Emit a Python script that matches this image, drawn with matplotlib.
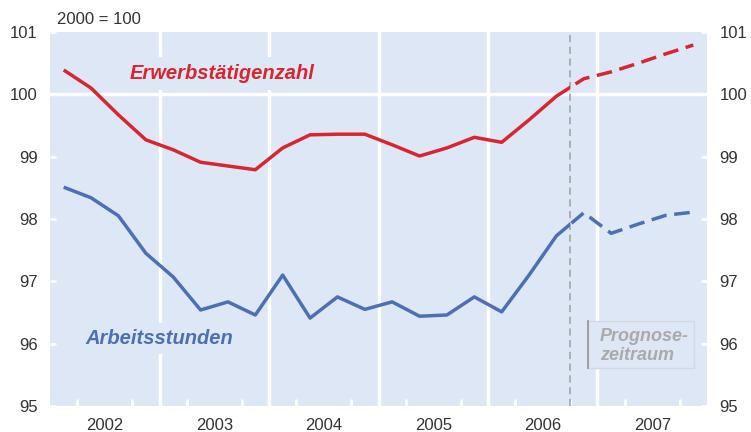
import matplotlib.pyplot as plt
from matplotlib.patches import Rectangle
import numpy as np

plt.rcParams['font.family'] = ['Liberation Sans', 'DejaVu Sans']

# quarterly data 2002Q1 .. 2007Q4 (2000 = 100)
years = [2002, 2003, 2004, 2005, 2006, 2007]
erwerb = [100.39, 100.10, 99.67, 99.27, 99.11, 98.91, 98.85, 98.79,
          99.14, 99.35, 99.36, 99.36, 99.19, 99.01, 99.14, 99.31,
          99.23, 99.59, 99.97, 100.25, 100.36, 100.50, 100.65, 100.79]
stunden = [98.51, 98.34, 98.05, 97.45, 97.07, 96.54, 96.67, 96.46,
           97.10, 96.41, 96.75, 96.55, 96.67, 96.44, 96.46, 96.75,
           96.51, 97.10, 97.73, 98.10, 97.77, 97.92, 98.06, 98.11]
forecast_start = 2006.75

bg = '#dee7f6'
red = '#d9262e'
blue = '#4b70b6'
grey_txt = '#333333'

x = np.array([y + (q + 0.5) / 4 for y in years for q in range(4)])

fig = plt.figure(figsize=(7.51, 4.32), dpi=100)
ax = fig.add_axes([0.0666, 0.0602, 0.8748, 0.8658])
ax.set_facecolor(bg)
for s in ax.spines.values():
    s.set_visible(False)

ax.set_xlim(2002, 2008)
ax.set_ylim(95, 101)

# grid: year boundaries and the 100 line
for yb in years[1:]:
    ax.axvline(yb, color='white', lw=2.5, zorder=1)
ax.axhline(100, color='white', lw=2.5, zorder=1)

# forecast marker
ax.axvline(forecast_start, color='#aaaaaa', lw=1.3, ls=(0, (4, 2.5)), zorder=2)

# lines: solid before forecast start, dashed after (clipped, no extra points)
for vals, col in [(erwerb, red), (stunden, blue)]:
    solid, = ax.plot(x, vals, color=col, lw=2.5, zorder=4, solid_capstyle='butt')
    clip1 = Rectangle((2002, 95), forecast_start - 2002, 6, transform=ax.transData)
    solid.set_clip_path(clip1)
    dash, = ax.plot(x, vals, color=col, lw=2.5, zorder=4, ls=(0, (4.5, 2.2)))
    clip2 = Rectangle((forecast_start, 95), 2008 - forecast_start, 6, transform=ax.transData)
    dash.set_clip_path(clip2)

# ticks
ax.set_xticks([y + 0.5 for y in years])
ax.set_xticklabels([str(y) for y in years])
ax.set_xticks([y + q / 4 for y in years for q in (1, 2, 3)], minor=True)
ax.tick_params(axis='x', which='major', length=0, pad=8.5, labelsize=12, labelcolor=grey_txt)
ax.tick_params(axis='x', which='minor', direction='in', length=5, width=2, color='white')

ax.set_yticks([95, 96, 97, 98, 99, 100, 101])
ax.tick_params(axis='y', which='major', direction='in', length=4, width=2, color='white',
               left=True, right=True, labelleft=True, labelright=True,
               pad=9, labelsize=12, labelcolor=grey_txt)

# series labels
ax.text(2003.572, 100.33, 'Erwerbstätigenzahl', color=red, fontsize=14.5,
        fontweight='bold', fontstyle='italic', ha='center', va='center', zorder=3,
        bbox=dict(boxstyle='square,pad=0.35', fc=bg, ec='none'))
ax.text(2003.0, 96.09, 'Arbeitsstunden', color=blue, fontsize=14.5,
        fontweight='bold', fontstyle='italic', ha='center', va='center', zorder=3,
        bbox=dict(boxstyle='square,pad=0.3', fc=bg, ec='none'))

# forecast box
ax.add_patch(Rectangle((2006.909, 95.61), 0.97, 0.753, fc=bg, ec='#d3d9e3',
                       lw=1, zorder=3))
ax.plot([2006.909, 2006.909], [95.61, 96.363], color='#999999', lw=1.3, zorder=3)
ax.text(2007.02, 95.96, 'Prognose-\nzeitraum', color='#aaaaaa', fontsize=13,
        fontweight='bold', fontstyle='italic', ha='left', va='center',
        linespacing=1.2, zorder=4)

fig.text(57 / 751, 1 - 19 / 432, '2000 = 100', fontsize=12, color=grey_txt,
         ha='left', va='center')

fig.savefig('out.png', dpi=100)
